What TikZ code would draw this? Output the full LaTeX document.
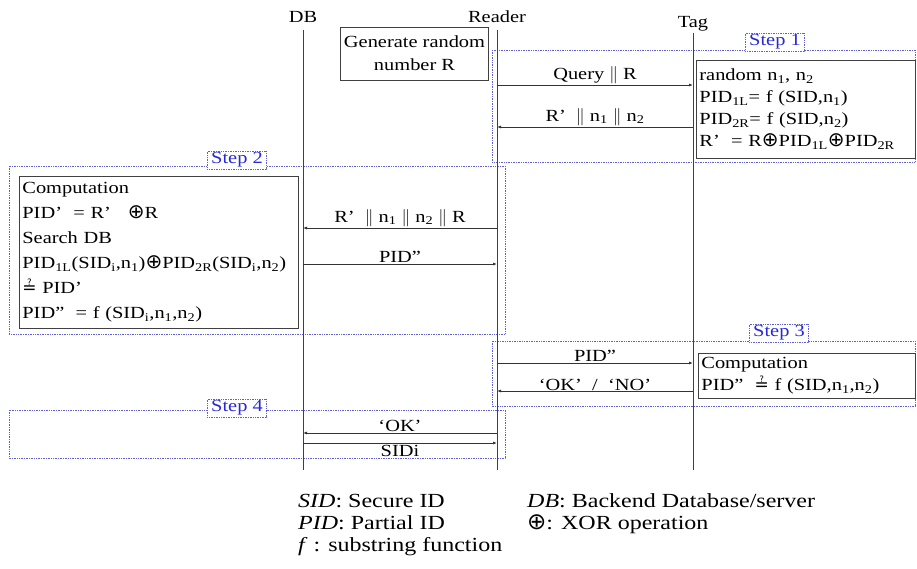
\documentclass[tikz,border=0pt]{standalone}
\usepackage{amsmath}
\usepackage{fontspec}
\setmainfont{Liberation Serif}[FakeStretch=1.2]
\newfontfamily\symbfont{DejaVu Sans}
\usetikzlibrary{arrows.meta}

\definecolor{stepblue}{RGB}{40,40,215}
\definecolor{frameblue}{RGB}{95,95,215}
\newcommand{\diagfont}{\fontsize{17}{22}\selectfont}
\newcommand{\legfont}{\fontsize{20}{22.5}\selectfont}
\newcommand{\qeq}{{\symbfont ≟}}
\newcommand{\xorop}[1][20]{{\symbfont\fontsize{#1}{22}\selectfont ⊕}}

\begin{document}
\begin{tikzpicture}[
      x=1pt,
      y=-1pt,
      party/.style={font=\diagfont, inner sep=0pt},
      lifeline/.style={draw=black!75, line width=0.8pt},
      message/.style={
        -{Latex[length=4pt,width=3pt]},
        draw=black!80,
        line width=0.8pt
      },
      msglabel/.style={font=\diagfont, inner sep=1pt},
      stepframe/.style={draw=frameblue, densely dotted, line width=0.7pt},
      steplabel/.style={
        font=\diagfont,
        text=stepblue,
        draw=frameblue,
        densely dotted,
        line width=0.7pt,
        fill=white,
        inner xsep=4pt,
        inner ysep=1.5pt
      },
      calcbox/.style={
        draw=black!75,
        line width=0.8pt,
        font=\diagfont,
        align=left,
        anchor=north west,
        inner sep=3pt
      },
      legend/.style={font=\legfont, anchor=base west, inner sep=0pt}
    ]
    \useasboundingbox (0,0) rectangle (917,569);

    % step frames
    \draw[stepframe] (492,50) rectangle (915,162);
    \draw[stepframe] (9,166) rectangle (505,334);
    \draw[stepframe] (492,341) rectangle (915,406);
    \draw[stepframe] (9,410) rectangle (505,458);

    \node[steplabel] (step1) at (775,42) {Step 1};
    \node[steplabel] (step2) at (237,160) {Step 2};
    \node[steplabel] (step3) at (779,333) {Step 3};
    \node[steplabel] (step4) at (237,408) {Step 4};

    % participants
    \node[party] (db) at (303,17) {DB};
    \node[party] (reader) at (497,17) {Reader};
    \node[party] (tag) at (693,24) {Tag};

    \draw[lifeline] (db |- 0,30) -- (db |- 0,470);
    \draw[lifeline] (reader |- 0,30) -- (reader |- 0,470);
    \draw[lifeline] (tag |- 0,33) -- (tag |- 0,470);

    \node[draw=black!75, line width=0.8pt, align=center,
      font=\fontsize{17}{23}\selectfont,
      minimum width=145pt, minimum height=53pt] (genR) at (414.5,53.5)
      {Generate random\\number R};

    % step 1
    \node[calcbox, text width=213pt, minimum height=98pt] (tagcalc) at (696,60) {
      random n\textsubscript{1}, n\textsubscript{2}\\
      PID\textsubscript{1L}= f (SID,n\textsubscript{1})\\
      PID\textsubscript{2R}= f (SID,n\textsubscript{2})\\
      R’\ \ = R\xorop PID\textsubscript{1L}\xorop PID\textsubscript{2R}
    };

    \draw[message] (reader |- 0,85) --
      node[msglabel, above] {Query $\|$ R}
      (tag |- 0,85);

    \draw[message] (tag |- 0,127) --
      node[msglabel, above] {R’\ \ $\|$ n\textsubscript{1} $\|$ n\textsubscript{2}}
      (reader |- 0,127);

    % step 2
    \node[calcbox, text width=273pt, minimum height=152pt,
      font=\fontsize{17}{25}\selectfont] (dbcalc) at (19,176) {
      Computation\\
      PID’\ \ = R’\ \ \ \xorop R\\
      Search DB\\
      PID\textsubscript{1L}(SID\textsubscript{i},n\textsubscript{1})\xorop PID\textsubscript{2R}(SID\textsubscript{i},n\textsubscript{2})\\
      \qeq\ PID’\\
      PID”\ \ = f (SID\textsubscript{i},n\textsubscript{1},n\textsubscript{2})
    };

    \draw[message] (reader |- 0,228) --
      node[msglabel, above] {R’\ \ $\|$ n\textsubscript{1} $\|$ n\textsubscript{2} $\|$ R}
      (db |- 0,228);

    \draw[message] (db |- 0,264) --
      node[msglabel, above] {PID”}
      (reader |- 0,264);

    % step 3
    \node[calcbox, text width=211pt, minimum height=45pt] (tagcheck) at (698,353) {
      Computation\\
      PID”\ \ \qeq\ f (SID,n\textsubscript{1},n\textsubscript{2})
    };

    \draw[message] (reader |- 0,363) --
      node[msglabel, above] {PID”}
      (tag |- 0,363);

    \draw[message] (tag |- 0,391) --
      node[msglabel, above, inner sep=0pt] {‘OK’\ \ /\ \ ‘NO’}
      (reader |- 0,391);

    % step 4
    \draw[message] (reader |- 0,433) --
      node[msglabel, above] {‘OK’}
      (db |- 0,433);

    \draw[message] (db |- 0,443) --
      node[msglabel, below, inner sep=1.5pt] {SIDi}
      (reader |- 0,443);

    % legend
    \node[legend] (sidnote) at (298,507) {\textit{SID}: Secure ID};
    \node[legend] (pidnote) at (298,529) {\textit{PID}: Partial ID};
    \node[legend] (fnote) at (298,551) {\textit{f} : substring function};
    \node[legend] (dbnote) at (527,507) {\textit{DB}: Backend Database/server};
    \node[legend] (xornote) at (527,529) {\xorop[23]: XOR operation};
  \end{tikzpicture}
\end{document}
